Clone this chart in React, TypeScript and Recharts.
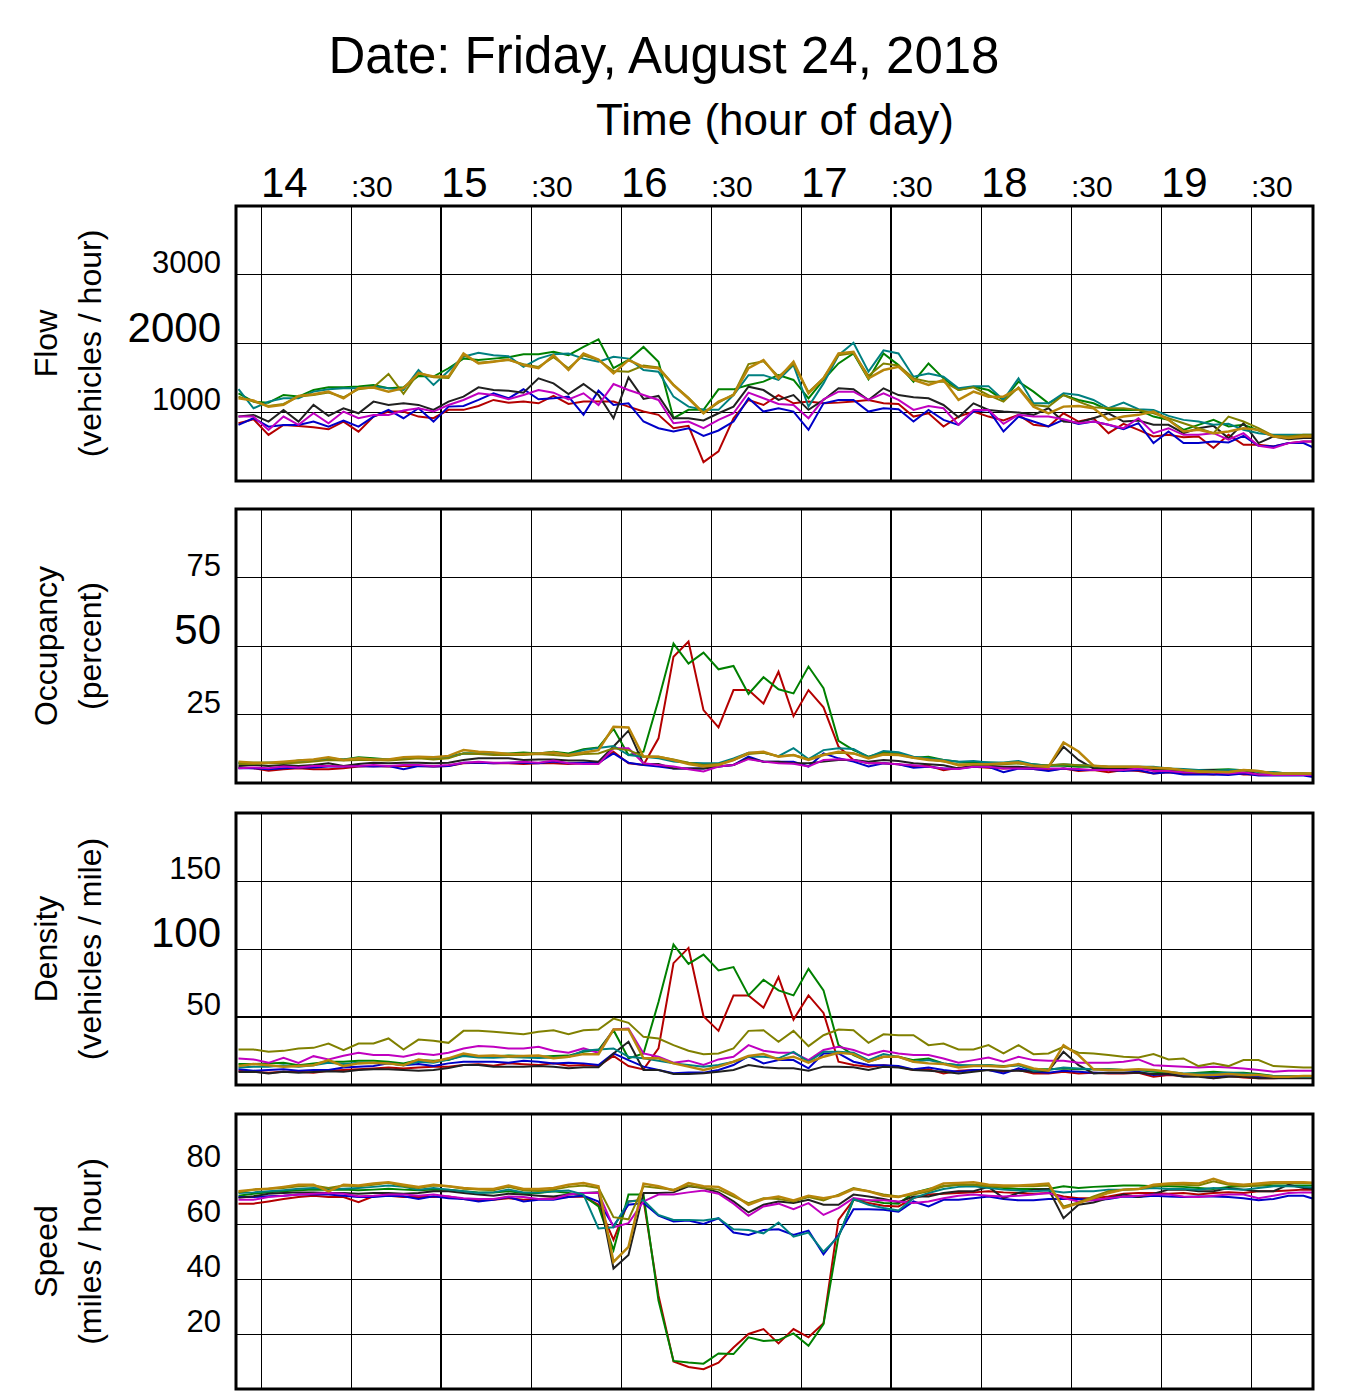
import React from 'react';
import { LineChart, Line, XAxis, YAxis, CartesianGrid, ReferenceLine } from 'recharts';

// sample times, minutes of day (5-minute bins, centred)
const TIMES = [
  832.5, 837.5, 842.5, 847.5, 852.5, 857.5, 862.5, 867.5, 872.5, 877.5,
  882.5, 887.5, 892.5, 897.5, 902.5, 907.5, 912.5, 917.5, 922.5, 927.5,
  932.5, 937.5, 942.5, 947.5, 952.5, 957.5, 962.5, 967.5, 972.5, 977.5,
  982.5, 987.5, 992.5, 997.5, 1002.5, 1007.5, 1012.5, 1017.5, 1022.5, 1027.5,
  1032.5, 1037.5, 1042.5, 1047.5, 1052.5, 1057.5, 1062.5, 1067.5, 1072.5, 1077.5,
  1082.5, 1087.5, 1092.5, 1097.5, 1102.5, 1107.5, 1112.5, 1117.5, 1122.5, 1127.5,
  1132.5, 1137.5, 1142.5, 1147.5, 1152.5, 1157.5, 1162.5, 1167.5, 1172.5, 1177.5,
  1182.5, 1187.5, 1192.5,
];

const HOUR_TICKS = [840, 870, 900, 930, 960, 990, 1020, 1050, 1080, 1110, 1140, 1170];

// Flow (vehicles / hour)
const flowRed = [840,898,670,816,801,782,752,864,718,937,1010,1010,937,913,1035,1035,1092,1179,1140,1155,1130,1237,1120,1155,1155,1155,1082,1010,962,768,802,275,430,913,1179,1106,1250,1130,1155,1130,1140,1155,1179,1130,1120,937,985,793,937,1010,937,880,962,817,793,985,865,913,696,831,744,648,672,638,648,479,672,527,527,503,551,575,575];
const flowGreen = [1276,1155,1140,1252,1228,1325,1364,1364,1373,1398,1350,1364,1529,1519,1640,1780,1760,1780,1800,1845,1845,1880,1830,1950,2060,1640,1760,1950,1735,913,1035,1035,1333,1333,1396,1445,1540,1470,1200,1470,1710,1855,1480,1855,1686,1445,1710,1493,1323,1372,1323,1179,1445,1300,1130,1250,1179,1130,1034,1034,1034,937,889,744,817,889,793,817,735,648,648,648,648];
const flowBlue = [816,913,791,816,816,864,791,879,791,937,1034,913,1058,864,1082,1092,1179,1276,1203,1334,1188,1203,1227,962,1314,1106,1130,865,768,720,768,657,735,865,1203,1010,1058,1010,744,1130,1179,1179,1010,1058,1044,865,1034,889,817,1010,1034,720,937,865,793,889,831,865,817,754,841,551,720,551,551,575,561,657,513,503,551,551,455];
const flowBlack = [937,961,864,1034,864,1107,947,1058,985,1155,1107,1131,1107,1034,1155,1227,1362,1323,1314,1285,1493,1420,1266,1410,1250,913,1507,1194,1237,913,913,880,985,1082,1372,1323,1179,1250,1035,1179,1348,1334,1179,1348,1250,1218,1203,1106,928,1130,1034,1010,995,962,1058,865,851,913,985,865,880,817,817,696,768,802,624,841,551,648,609,624,624];
const flowMagenta = [937,937,743,937,816,985,840,1010,913,961,961,1024,1058,1010,1106,1179,1276,1250,1188,1250,1323,1285,1188,1276,1106,1410,1323,1250,1179,841,865,768,889,985,1285,1203,1120,1106,913,1188,1300,1300,1179,1276,1179,1034,1092,1058,817,1034,1034,831,962,937,937,899,841,865,817,768,913,696,768,672,672,696,600,696,513,479,551,575,575];
const flowTeal = [1335,1058,1155,1204,1204,1300,1335,1350,1350,1373,1350,1325,1616,1398,1600,1807,1865,1830,1815,1660,1780,1845,1855,1780,1735,1807,1780,1614,1590,1227,1082,1035,1035,1250,1540,1540,1470,1686,1082,1420,1830,2010,1590,1900,1855,1517,1565,1517,1348,1380,1380,1179,1493,1130,1130,1275,1250,1179,1058,1140,1044,1034,947,889,865,817,831,744,696,672,672,672,672];
const flowOlive = [1228,1155,1092,1121,1228,1252,1286,1218,1335,1364,1558,1267,1577,1509,1500,1830,1720,1740,1760,1700,1660,1800,1640,1830,1760,1600,1590,1680,1650,1400,1210,990,1140,1260,1700,1740,1520,1700,1290,1500,1830,1860,1530,1710,1680,1493,1445,1445,1323,1362,1250,1155,1362,1106,1082,1250,1155,1072,1058,1058,1034,985,913,841,768,696,937,865,768,657,648,672,672];
const flowGold = [1204,1170,1082,1107,1238,1262,1300,1204,1350,1359,1300,1350,1567,1519,1519,1855,1710,1735,1768,1686,1640,1830,1614,1855,1768,1565,1760,1660,1640,1396,1200,985,1155,1250,1640,1760,1493,1735,1275,1493,1855,1880,1493,1614,1660,1469,1396,1469,1179,1300,1227,1227,1348,1082,985,1082,1092,1058,889,937,962,1010,889,720,744,696,720,768,744,648,624,648,648];

// Occupancy (percent)
const occRed = [5.7,5.4,4.5,5.0,5.4,5.0,5.0,5.4,6.0,6.2,6.0,6.2,6.2,6.0,6.2,7.2,7.4,7.2,7.2,6.9,7.2,7.2,6.9,7.2,7.2,11.4,7.2,6.6,16.3,46.1,51.6,26.6,20.3,33.9,33.9,29.0,40.6,24.4,33.9,27.6,13.3,8.4,7.2,7.2,6.8,5.9,6.3,4.7,5.6,5.9,5.6,5.3,5.6,5.1,4.7,5.3,4.4,4.7,3.9,4.7,4.4,3.5,3.9,3.5,3.5,3.1,3.9,3.1,3.1,2.9,2.9,2.9,2.9];
const occGreen = [7.4,7.4,7.4,7.4,8.2,8.4,9.0,8.6,9.4,9.0,8.6,9.0,9.4,9.0,9.6,10.8,10.8,10.8,10.8,11.1,10.8,11.4,10.8,12.3,13.0,19.8,10.2,11.4,30.3,50.9,43.6,47.6,41.5,42.7,32.5,38.6,34.2,32.7,42.5,34.6,15.4,12.0,9.6,11.2,10.8,9.2,9.6,8.4,7.8,7.5,7.5,7.2,7.2,6.8,6.3,6.3,5.9,5.9,5.6,5.6,5.6,5.3,5.3,4.7,4.7,4.8,5.0,4.7,4.1,3.9,3.5,3.5,3.1];
const occBlue = [5.4,5.4,5.0,5.4,5.7,5.7,6.0,6.0,6.2,6.0,6.2,5.0,6.2,6.0,6.2,7.4,7.4,7.2,7.4,7.4,7.2,7.8,7.2,7.4,7.4,10.8,7.4,6.6,6.0,5.3,5.3,5.3,6.0,6.6,9.6,7.8,7.8,7.8,6.0,10.8,9.0,7.8,6.0,7.2,6.8,5.6,5.9,5.3,5.3,5.9,5.9,3.9,5.3,5.1,4.4,5.3,4.7,4.7,4.7,4.4,4.7,3.5,3.9,3.1,3.1,3.1,2.9,3.5,2.7,2.7,2.7,2.7,1.9];
const occBlack = [6.2,6.6,6.2,6.6,6.2,6.6,7.2,6.2,6.9,7.4,7.2,7.4,7.4,7.2,7.4,8.4,9.0,9.0,9.0,8.4,8.6,8.6,8.2,8.2,7.8,13.3,19.1,6.9,6.9,5.3,5.3,5.3,6.0,6.6,9.0,7.8,7.8,7.2,7.2,7.8,8.4,8.4,7.8,8.4,8.0,7.2,6.8,6.5,5.3,6.3,6.3,5.9,5.9,5.6,5.9,13.2,8.4,5.3,5.3,5.3,5.3,5.1,4.7,4.4,4.7,4.7,3.9,4.7,3.1,3.1,3.1,3.1,3.1];
const occMagenta = [5.4,5.7,5.4,6.0,5.7,6.2,6.2,6.0,6.2,6.6,6.2,6.6,6.6,6.2,6.6,7.4,7.8,7.4,7.4,7.8,7.4,8.2,7.2,6.9,6.9,12.7,12.7,7.2,6.6,6.0,5.0,4.2,6.0,6.6,8.7,7.8,7.2,7.0,6.0,8.4,8.7,8.4,7.2,7.2,6.8,6.5,5.9,5.3,5.1,5.9,5.9,5.3,5.3,5.3,5.3,5.3,5.1,4.7,4.7,4.7,5.3,4.4,4.4,3.9,3.9,3.9,3.5,3.9,3.1,2.9,2.9,2.9,2.9];
const occTeal = [7.2,7.2,7.4,7.4,7.8,8.4,8.6,8.6,9.0,8.6,8.6,9.0,9.4,9.0,9.4,10.8,10.8,10.6,10.6,10.6,10.8,11.1,10.2,12.0,12.8,13.5,10.2,9.6,9.0,7.8,7.4,7.2,7.2,9.0,11.0,11.0,9.8,12.7,8.7,12.0,12.7,12.4,9.4,11.7,11.2,9.6,9.0,8.4,7.8,8.0,7.5,7.5,8.0,6.8,6.3,6.8,6.5,6.3,5.9,5.9,5.9,5.9,5.3,5.1,4.7,4.4,4.7,4.7,4.1,3.9,3.5,3.5,3.1];
const occOlive = [6.9,6.9,7.2,7.2,7.4,7.8,8.4,8.2,8.4,8.4,8.2,8.6,9.0,8.6,9.0,10.8,10.6,10.2,10.2,10.2,10.6,10.2,9.9,10.6,10.8,12.7,12.0,9.8,9.6,8.6,7.4,6.6,6.9,8.4,10.6,11.0,9.8,10.2,8.7,10.4,11.0,10.8,9.2,10.8,10.4,9.2,8.7,7.8,6.8,6.8,6.8,6.8,7.2,6.3,6.5,6.8,6.5,6.3,5.9,5.9,5.9,5.6,5.3,4.7,4.4,4.1,4.1,4.7,4.4,3.5,3.5,3.5,3.5];
const occGold = [7.8,7.4,7.4,7.8,8.2,8.6,9.4,8.4,9.0,8.6,8.6,9.4,9.6,9.4,9.9,12.0,11.4,11.1,10.6,10.6,10.8,11.1,10.2,11.1,12.0,20.5,20.3,9.6,9.6,8.4,6.9,6.0,6.6,8.4,11.0,11.4,9.6,10.2,8.4,10.2,11.4,10.8,9.0,10.4,10.2,9.2,8.4,8.0,6.5,6.8,6.8,7.2,7.5,6.3,5.9,14.8,11.5,6.3,5.9,5.9,5.9,5.6,5.3,4.7,4.1,4.1,3.9,4.7,4.4,3.5,3.5,3.5,3.5];

// Density (vehicles / mile)
const densRed = [10.5,9.8,9.0,9.8,9.8,9.0,10.5,11.0,11.5,12.2,12.9,12.2,12.9,13.4,13.5,14.7,15.2,14.2,15.9,15.2,14.7,16.0,14.2,14.7,14.0,21.3,14.0,11.5,26.9,89.6,100.8,50.5,39.8,65.9,65.9,56.9,79.3,48.1,65.9,53.0,17.1,14.7,13.5,14.6,13.4,11.0,11.5,8.5,10.5,11.0,11.0,9.8,11.0,8.5,8.5,9.8,8.5,9.0,8.5,8.5,9.0,6.1,7.3,6.6,6.6,4.9,6.6,5.6,4.9,4.9,5.6,6.1,6.1];
const densGreen = [15.4,15.4,15.9,16.3,14.6,15.9,17.1,17.1,17.8,17.8,17.1,15.9,18.3,17.8,18.3,22.0,21.3,21.0,21.6,21.3,20.8,21.3,21.6,24.4,25.7,40.3,19.6,23.2,61.0,103.3,89.1,95.9,84.2,86.7,65.9,77.4,69.6,65.9,85.4,69.6,29.3,22.0,17.1,20.7,20.7,18.3,19.5,15.9,14.6,13.9,14.6,13.9,14.6,11.5,11.5,12.2,11.5,11.5,11.5,11.0,11.0,9.8,9.0,8.1,9.0,9.8,9.0,9.0,8.1,6.6,6.6,6.1,6.1];
const densBlue = [11.5,10.5,11.0,11.5,10.5,11.0,11.0,12.9,13.4,13.9,15.9,14.6,15.4,13.9,15.9,17.1,17.1,17.1,16.4,17.9,17.1,15.9,16.4,15.9,14.7,23.2,18.3,13.5,11.0,8.6,9.1,9.1,11.0,14.7,21.3,15.9,18.3,18.3,12.3,23.2,23.2,17.1,14.7,14.6,13.9,11.5,12.9,11.0,9.8,11.0,11.0,8.5,12.2,9.8,9.0,10.5,9.8,9.0,9.0,9.0,9.8,7.3,8.1,6.6,6.6,6.6,6.6,7.3,6.1,6.1,6.1,6.1,6.1];
const densBlack = [9.5,9.8,8.5,9.8,9.0,9.5,10.2,9.8,11.0,11.5,11.5,11.0,10.5,11.0,12.5,14.7,14.7,13.5,13.5,13.5,14.0,13.5,12.3,13.0,13.0,23.2,31.8,11.0,11.0,8.1,8.1,8.6,9.8,11.0,14.7,13.0,12.3,12.3,10.5,13.5,13.5,13.0,11.0,13.4,12.9,11.0,10.5,9.8,8.5,9.8,11.0,10.5,10.5,9.8,10.5,24.4,14.6,8.5,9.0,9.0,9.0,8.1,8.1,6.1,6.1,4.9,6.1,6.1,4.9,4.9,4.9,4.9,4.9];
const densMagenta = [19.5,18.8,16.3,20.0,16.3,21.2,18.8,21.5,23.7,22.0,22.0,20.7,23.2,22.0,23.7,26.9,28.6,28.1,26.9,26.9,28.1,25.2,23.7,26.9,23.7,40.8,41.5,23.2,20.8,16.4,17.9,14.7,18.8,20.8,29.3,25.2,23.7,23.7,18.3,25.7,28.1,25.7,22.0,25.1,23.2,22.0,22.0,19.5,16.3,18.3,20.2,17.1,20.7,18.3,17.8,17.8,16.3,16.3,16.3,17.1,18.8,14.6,13.9,13.4,12.9,13.4,12.9,12.2,11.0,9.8,10.5,10.5,10.5];
const densTeal = [12.9,13.4,13.4,14.6,13.4,14.6,16.3,15.4,16.3,16.3,15.9,14.6,17.1,16.3,18.8,21.3,20.3,20.0,20.6,20.3,19.8,20.3,20.6,25.2,26.1,26.9,20.8,19.6,17.9,15.9,14.7,13.5,14.7,17.1,20.8,20.8,19.6,24.4,17.1,24.4,24.4,23.7,18.3,22.7,20.7,17.1,18.3,15.9,14.6,14.6,14.6,13.4,14.6,10.5,11.0,12.9,12.2,11.5,11.5,11.0,11.0,10.5,9.8,8.5,8.5,8.5,9.0,8.5,7.3,6.6,6.6,6.1,6.1];
const densOlive = [26.1,26.1,24.4,25.1,26.8,27.3,30.5,25.6,30.5,30.5,34.2,26.1,33.4,32.5,31.0,39.8,39.8,39.1,38.3,37.4,39.1,40.3,37.4,40.3,40.8,48.8,45.7,35.4,34.2,29.3,25.2,22.7,23.2,26.9,39.8,40.3,31.8,39.8,28.6,36.6,40.8,40.3,31.0,37.3,36.6,36.6,29.3,30.5,26.1,26.1,29.3,23.2,29.3,22.7,23.2,28.1,23.7,23.2,22.0,20.7,20.2,22.7,18.8,19.5,13.9,15.9,13.9,18.3,18.3,13.9,13.4,12.9,12.9];
const densGold = [13.9,15.4,14.6,13.4,13.9,14.6,18.3,13.9,15.9,16.3,15.9,14.6,18.8,17.1,19.6,23.2,21.3,21.6,21.0,21.3,21.6,19.6,20.8,22.7,22.7,40.8,40.8,19.6,19.6,15.9,13.5,11.0,13.5,17.1,21.3,22.7,18.8,20.8,16.4,20.8,23.7,22.7,17.1,20.7,20.7,17.1,15.9,15.4,12.9,13.9,13.9,13.4,15.4,12.2,10.5,29.3,22.0,11.5,11.0,11.0,11.5,11.0,9.8,8.1,7.3,7.3,8.1,7.3,7.3,6.1,6.1,6.6,6.6];

// Speed (miles / hour)
const spdRed = [67.4,67.4,68.2,69.1,69.8,70.3,69.8,69.8,67.9,70.1,70.3,69.8,69.8,69.8,70.0,69.1,68.6,68.8,69.4,68.8,69.1,69.4,69.8,70.0,67.0,54.2,68.2,68.8,34.0,10.0,8.0,7.2,9.6,15.1,20.0,21.8,16.6,21.8,18.8,23.9,61.5,68.8,67.6,66.6,66.4,69.4,70.7,71.0,71.3,71.5,71.9,71.5,71.3,71.0,71.3,70.0,69.4,69.4,70.0,71.0,71.3,71.3,71.0,71.3,70.7,71.3,71.5,71.3,71.9,71.9,72.2,72.5,72.5];
const spdGreen = [70.3,71.0,71.5,71.9,72.3,72.5,72.5,72.5,72.3,72.5,72.8,72.5,72.3,72.5,72.5,71.9,71.5,71.5,71.9,71.3,71.3,71.9,71.3,70.3,66.4,50.5,70.7,70.7,32.2,10.2,9.6,9.2,12.9,12.7,18.8,17.5,17.8,20.2,15.7,23.6,55.4,68.8,68.6,67.6,67.4,71.3,72.7,73.7,74.3,74.3,73.7,73.1,72.7,72.7,72.7,73.7,73.1,73.5,73.7,74.0,74.0,73.7,73.7,73.5,73.1,72.7,73.5,73.7,74.0,74.0,74.0,74.0,74.0];
const spdBlue = [69.8,69.8,70.1,70.3,70.7,70.7,70.7,70.3,69.8,69.8,70.3,70.1,69.1,70.1,69.4,69.1,68.2,68.8,69.8,68.2,68.8,68.8,69.8,70.3,68.2,59.3,67.0,67.6,63.0,60.9,61.3,60.0,62.1,56.9,56.0,57.8,58.1,56.0,57.6,49.0,56.0,65.4,65.4,65.2,64.5,68.2,66.4,68.8,68.8,69.4,70.0,69.1,68.6,68.6,69.1,69.1,69.1,68.6,69.1,70.0,69.8,70.3,70.0,69.8,70.0,70.0,69.8,69.4,68.6,69.1,70.3,70.3,68.6];
const spdBlack = [69.5,70.1,71.0,71.3,71.5,71.5,71.3,71.3,71.0,71.3,71.3,71.0,71.3,71.9,71.9,71.3,70.7,70.3,71.0,70.7,70.3,70.0,70.7,71.3,71.5,43.8,48.7,71.3,71.3,71.5,73.7,73.1,71.5,68.2,64.2,67.0,68.2,67.6,68.8,67.0,67.0,70.7,70.0,69.1,67.9,70.0,70.0,71.3,71.9,71.9,73.5,69.4,71.3,72.5,72.7,62.1,67.0,67.8,69.4,70.7,69.8,71.0,72.5,72.5,71.9,71.9,73.1,72.5,71.9,71.9,74.3,73.1,72.7];
const spdMagenta = [68.8,68.8,69.8,70.3,70.7,71.0,71.3,71.0,70.1,70.3,70.7,70.7,70.3,70.7,70.0,69.4,69.1,69.1,70.0,69.8,69.1,69.1,70.7,71.3,71.3,58.8,60.3,68.2,70.7,70.7,71.5,72.2,71.0,67.4,63.0,66.4,67.4,65.4,67.6,63.3,65.8,69.4,68.6,68.6,68.2,67.6,68.2,69.4,70.3,70.7,70.3,70.0,70.3,70.7,71.3,69.4,68.2,68.6,69.4,70.0,70.3,70.7,70.7,70.0,69.8,70.3,70.7,70.7,69.4,70.3,71.3,71.5,71.5];
const spdTeal = [71.3,71.5,71.9,72.3,72.8,73.1,72.8,72.8,73.1,73.5,74.0,73.5,72.5,73.1,72.5,71.9,71.3,71.5,72.5,71.5,71.5,71.9,72.2,70.7,58.4,58.8,68.2,68.6,63.3,61.5,61.5,61.3,62.1,58.1,57.8,56.6,60.5,55.4,56.9,49.9,55.4,69.1,67.0,65.8,64.9,69.4,71.3,72.7,73.5,73.7,73.1,72.5,72.2,71.9,72.2,71.5,71.9,71.9,72.5,72.5,72.7,73.1,72.7,72.7,72.5,73.1,72.7,72.5,73.1,73.7,73.7,73.5,73.1];
const spdOlive = [71.5,72.5,72.8,73.1,73.7,74.0,73.1,74.0,73.7,74.3,75.0,73.7,73.1,74.0,73.7,72.8,72.5,72.3,73.5,72.3,72.0,72.5,73.5,74.0,73.1,62.5,61.7,73.7,73.1,72.5,74.0,73.1,72.5,70.0,67.6,69.4,69.1,68.2,69.8,68.6,70.7,73.1,71.9,70.7,70.0,70.7,71.9,73.7,74.3,74.3,73.7,73.5,73.7,73.7,74.0,66.4,67.8,70.0,71.9,72.5,72.7,73.7,74.3,74.3,74.0,75.5,74.3,73.7,74.0,74.7,74.9,74.9,74.7];
const spdGold = [71.9,72.5,72.8,73.5,74.3,74.3,71.9,74.3,74.0,74.7,75.2,74.3,73.5,74.3,73.7,73.1,72.7,72.7,74.0,72.7,72.7,73.1,74.3,74.9,73.7,46.2,51.7,74.7,73.7,72.2,74.9,73.7,73.5,70.7,67.0,69.1,70.0,68.6,70.3,69.4,70.3,72.7,71.9,70.3,69.8,71.3,72.5,74.7,74.9,75.2,74.3,74.0,74.0,74.3,74.7,65.8,67.6,69.4,71.3,72.5,72.7,74.3,74.7,74.9,74.7,76.4,74.7,74.3,74.7,75.2,75.2,75.2,74.9];

const FONT = '"Liberation Sans", Arial, Helvetica, sans-serif';
const CHART_W = 1353;
const PLOT_LEFT = 236;
const PLOT_W = 1077;
// 3 px per minute, 14:00 sits 25 px in from the left edge
const X_DOMAIN = [2495 / 3, 3572 / 3];

const SERIES = [
  { key: 'red', color: '#b40000', width: 2 },
  { key: 'green', color: '#008000', width: 2 },
  { key: 'blue', color: '#0000c8', width: 2 },
  { key: 'black', color: '#202020', width: 2 },
  { key: 'magenta', color: '#c000c0', width: 2 },
  { key: 'teal', color: '#008080', width: 2 },
  { key: 'olive', color: '#808000', width: 2 },
  { key: 'gold', color: '#b8860b', width: 2.5 },
];

const PANELS = [
  {
    id: 'flow', title: 'Flow', unit: '(vehicles / hour)', top: 206, height: 275,
    domain: [0, 4000], ticks: [1000, 2000, 3000], big: 2000, thickY: null,
    values: { red: flowRed, green: flowGreen, blue: flowBlue, black: flowBlack, magenta: flowMagenta, teal: flowTeal, olive: flowOlive, gold: flowGold },
  },
  {
    id: 'occ', title: 'Occupancy', unit: '(percent)', top: 509, height: 274,
    domain: [0, 100], ticks: [25, 50, 75], big: 50, thickY: null,
    values: { red: occRed, green: occGreen, blue: occBlue, black: occBlack, magenta: occMagenta, teal: occTeal, olive: occOlive, gold: occGold },
  },
  {
    id: 'dens', title: 'Density', unit: '(vehicles / mile)', top: 813, height: 272,
    domain: [0, 200], ticks: [50, 100, 150], big: 100, thickY: 50,
    values: { red: densRed, green: densGreen, blue: densBlue, black: densBlack, magenta: densMagenta, teal: densTeal, olive: densOlive, gold: densGold },
  },
  {
    id: 'speed', title: 'Speed', unit: '(miles / hour)', top: 1114, height: 275,
    domain: [0, 100], ticks: [20, 40, 60, 80], big: null, thickY: null,
    values: { red: spdRed, green: spdGreen, blue: spdBlue, black: spdBlack, magenta: spdMagenta, teal: spdTeal, olive: spdOlive, gold: spdGold },
  },
];

function buildRows(values) {
  return TIMES.map((t, i) => {
    const row = { t };
    SERIES.forEach((s) => {
      row[s.key] = values[s.key][i];
    });
    return row;
  });
}

function TimeTick({ x, payload }) {
  const onHour = payload.value % 60 === 0;
  return (
    <text x={x} y={197} textAnchor="start" fontFamily={FONT} fontSize={onHour ? 42 : 30} fill="#000">
      {onHour ? String(payload.value / 60) : ':30'}
    </text>
  );
}

function ValueTick({ y, payload, big }) {
  return (
    <text x={221} y={y - 2} textAnchor="end" fontFamily={FONT} fontSize={payload.value === big ? 42 : 31} fill="#000">
      {payload.value}
    </text>
  );
}

function Panel({ panel, first }) {
  const rows = buildRows(panel.values);
  const mt = first ? 0 : 5;
  const axisH = first ? panel.top : 0;
  const chartTop = first ? 0 : panel.top - 5;
  const chartH = mt + axisH + panel.height + 5;

  return (
    <div style={{ position: 'absolute', left: 0, top: chartTop }}>
      <LineChart width={CHART_W} height={chartH} data={rows} margin={{ top: mt, right: CHART_W - PLOT_LEFT - PLOT_W, bottom: 5, left: 0 }}>
        <CartesianGrid stroke="#000" strokeWidth={1} shapeRendering="crispEdges" />
        <XAxis
          dataKey="t"
          type="number"
          domain={X_DOMAIN}
          allowDataOverflow
          ticks={HOUR_TICKS}
          interval={0}
          orientation="top"
          hide={!first}
          height={axisH}
          axisLine={false}
          tickLine={false}
          tick={(p) => <TimeTick {...p} />}
        />
        <YAxis
          type="number"
          domain={panel.domain}
          ticks={panel.ticks}
          interval={0}
          allowDataOverflow
          width={PLOT_LEFT}
          axisLine={false}
          tickLine={false}
          tick={(p) => <ValueTick {...p} big={panel.big} />}
        />
        <ReferenceLine x={900} stroke="#000" strokeWidth={2} shapeRendering="crispEdges" />
        <ReferenceLine x={1050} stroke="#000" strokeWidth={2} shapeRendering="crispEdges" />
        {panel.thickY !== null && <ReferenceLine y={panel.thickY} stroke="#000" strokeWidth={2} shapeRendering="crispEdges" />}
        {SERIES.map((s) => (
          <Line
            key={s.key}
            type="linear"
            dataKey={s.key}
            stroke={s.color}
            strokeWidth={s.width}
            dot={false}
            isAnimationActive={false}
          />
        ))}
      </LineChart>
    </div>
  );
}

export default function App() {
  return (
    <div style={{ position: 'absolute', left: 0, top: 0, width: 1353, height: 1396, background: '#fff', fontFamily: FONT }}>
      {PANELS.map((p, i) => (
        <Panel key={p.id} panel={p} first={i === 0} />
      ))}
      <svg width={1353} height={1396} style={{ position: 'absolute', left: 0, top: 0, pointerEvents: 'none' }}>
        <text x={664} y={73} textAnchor="middle" fontFamily={FONT} fontSize={51} fill="#000">
          Date: Friday, August 24, 2018
        </text>
        <text x={775} y={135} textAnchor="middle" fontFamily={FONT} fontSize={44} fill="#000">
          Time (hour of day)
        </text>
        {PANELS.map((p) => {
          const cy = p.top + p.height / 2;
          return (
            <g key={p.id}>
              <rect x={PLOT_LEFT} y={p.top} width={PLOT_W} height={p.height} fill="none" stroke="#000" strokeWidth={3} />
              <text transform={`translate(57, ${cy}) rotate(-90)`} textAnchor="middle" fontFamily={FONT} fontSize={32} fill="#000">
                {p.title}
              </text>
              <text transform={`translate(101, ${cy}) rotate(-90)`} textAnchor="middle" fontFamily={FONT} fontSize={32} fill="#000">
                {p.unit}
              </text>
            </g>
          );
        })}
      </svg>
    </div>
  );
}
